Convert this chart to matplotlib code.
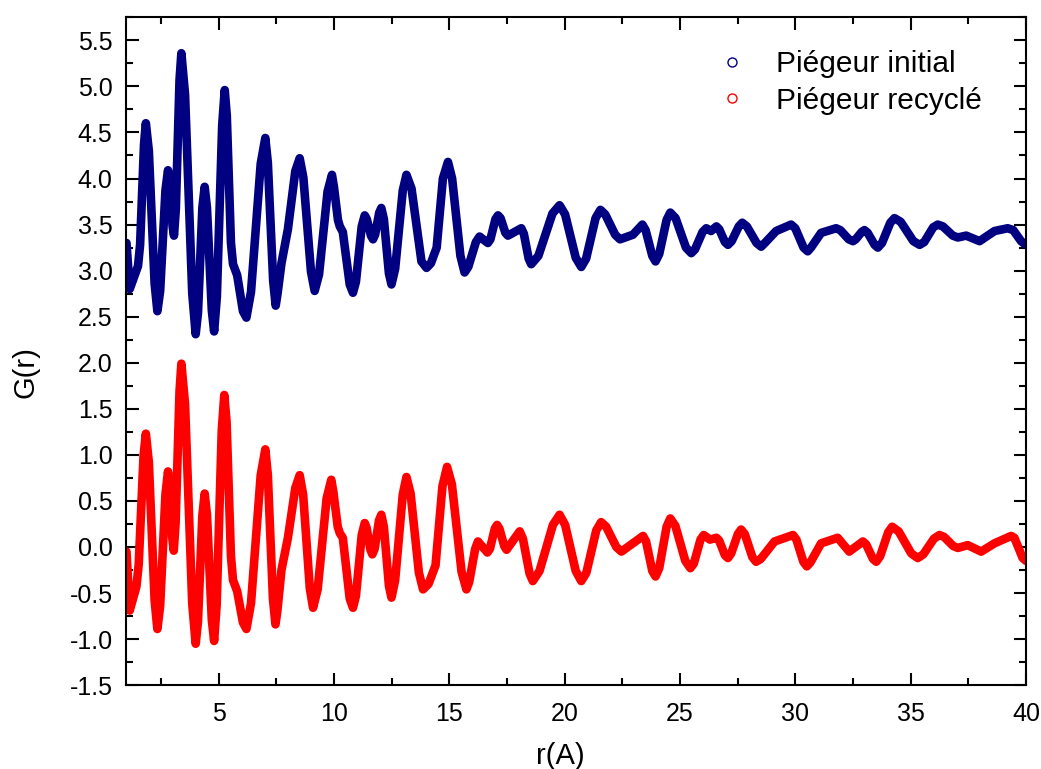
import matplotlib
matplotlib.use("Agg")
import matplotlib.pyplot as plt
from matplotlib.lines import Line2D
from matplotlib.ticker import MultipleLocator

# (r, G) points: extrema, shoulders and points on the flanks
initial_pts = [
    (1.00, 3.30), (1.14, 2.80), (1.50, 3.05), (1.59, 3.28), (1.76, 4.37), (1.84, 4.60),
    (1.97, 4.30), (2.22, 2.86), (2.34, 2.56), (2.46, 2.78), (2.69, 3.87), (2.80, 4.09),
    (2.87, 3.99), (3.00, 3.48), (3.06, 3.38), (3.14, 3.67), (3.30, 5.07), (3.38, 5.36),
    (3.54, 4.91), (3.85, 2.76), (4.00, 2.31), (4.10, 2.54), (4.29, 3.68), (4.39, 3.91),
    (4.49, 3.68), (4.70, 2.57), (4.80, 2.34), (4.92, 2.72), (5.15, 4.58), (5.26, 4.96),
    (5.35, 4.68), (5.53, 3.30), (5.62, 3.07), (5.80, 2.95), (6.05, 2.56), (6.20, 2.49),
    (6.40, 2.77), (6.82, 4.16), (7.02, 4.44), (7.13, 4.17), (7.36, 2.89), (7.47, 2.62),
    (7.55, 2.75), (7.72, 3.08), (8.00, 3.45), (8.32, 4.08), (8.51, 4.22), (8.67, 4.01),
    (9.00, 2.99), (9.16, 2.78), (9.35, 2.96), (9.72, 3.86), (9.91, 4.04), (10.00, 3.90),
    (10.17, 3.55), (10.25, 3.48), (10.38, 3.42), (10.68, 2.85), (10.82, 2.76), (10.95, 2.88),
    (11.20, 3.48), (11.33, 3.60), (11.42, 3.56), (11.60, 3.38), (11.69, 3.34), (11.78, 3.39),
    (11.96, 3.63), (12.05, 3.68), (12.16, 3.56), (12.38, 2.97), (12.49, 2.85), (12.65, 3.02),
    (12.98, 3.87), (13.14, 4.04), (13.36, 3.89), (13.79, 3.10), (14.01, 3.03), (14.20, 3.08),
    (14.45, 3.25), (14.72, 4.00), (14.94, 4.18), (15.12, 4.00), (15.48, 3.16), (15.66, 2.98),
    (15.82, 3.04), (16.15, 3.31), (16.31, 3.37), (16.67, 3.30), (16.78, 3.34), (17.00, 3.56),
    (17.11, 3.60), (17.22, 3.57), (17.43, 3.41), (17.54, 3.38), (18.12, 3.46), (18.23, 3.40),
    (18.44, 3.13), (18.55, 3.07), (18.86, 3.16), (19.47, 3.62), (19.78, 3.71), (20.02, 3.61),
    (20.48, 3.14), (20.72, 3.04), (20.93, 3.13), (21.34, 3.57), (21.55, 3.66), (21.76, 3.61),
    (22.19, 3.39), (22.40, 3.34), (22.96, 3.39), (23.37, 3.50), (23.51, 3.44), (23.80, 3.16),
    (23.94, 3.10), (24.10, 3.18), (24.42, 3.55), (24.58, 3.63), (24.81, 3.57), (25.26, 3.25),
    (25.49, 3.19), (25.65, 3.23), (25.98, 3.42), (26.14, 3.46), (26.35, 3.43), (26.58, 3.48),
    (26.70, 3.45), (26.95, 3.31), (27.08, 3.28), (27.24, 3.32), (27.55, 3.48), (27.70, 3.52),
    (27.90, 3.48), (28.32, 3.30), (28.52, 3.26), (28.68, 3.30), (29.17, 3.43), (29.82, 3.50),
    (30.00, 3.46), (30.36, 3.25), (30.54, 3.21), (30.68, 3.25), (31.12, 3.41), (31.77, 3.46),
    (31.95, 3.44), (32.32, 3.34), (32.50, 3.32), (32.62, 3.34), (32.88, 3.42), (33.00, 3.44),
    (33.14, 3.41), (33.44, 3.28), (33.58, 3.25), (33.76, 3.30), (34.12, 3.52), (34.30, 3.57),
    (34.57, 3.53), (35.12, 3.32), (35.39, 3.28), (35.59, 3.31), (35.98, 3.47), (36.18, 3.50),
    (36.40, 3.48), (36.83, 3.38), (37.05, 3.36), (37.41, 3.38), (37.99, 3.32), (38.64, 3.43),
    (39.21, 3.46), (39.45, 3.44), (39.79, 3.32), (40.00, 3.28),
]

recycled_pts = [
    (1.00, -0.05), (1.14, -0.69), (1.43, -0.43), (1.53, -0.19), (1.74, 0.99), (1.84, 1.23),
    (1.97, 0.92), (2.22, -0.58), (2.34, -0.89), (2.46, -0.64), (2.69, 0.57), (2.80, 0.82),
    (2.86, 0.69), (2.99, 0.09), (3.05, -0.04), (3.13, 0.26), (3.30, 1.69), (3.38, 1.99),
    (3.54, 1.55), (3.85, -0.61), (4.00, -1.05), (4.10, -0.81), (4.29, 0.34), (4.39, 0.58),
    (4.49, 0.35), (4.70, -0.79), (4.80, -1.02), (4.91, -0.63), (5.13, 1.26), (5.24, 1.65),
    (5.34, 1.36), (5.53, -0.10), (5.62, -0.36), (5.80, -0.48), (6.05, -0.82), (6.20, -0.89),
    (6.40, -0.61), (6.82, 0.78), (7.02, 1.06), (7.13, 0.78), (7.35, -0.56), (7.46, -0.84),
    (7.54, -0.70), (7.72, -0.25), (8.00, 0.10), (8.32, 0.64), (8.51, 0.78), (8.66, 0.57),
    (8.95, -0.45), (9.09, -0.66), (9.29, -0.46), (9.68, 0.53), (9.88, 0.73), (9.97, 0.60),
    (10.16, 0.22), (10.25, 0.15), (10.38, 0.10), (10.68, -0.56), (10.82, -0.66), (10.95, -0.53),
    (11.20, 0.13), (11.33, 0.26), (11.41, 0.21), (11.58, -0.03), (11.66, -0.08), (11.76, -0.02),
    (11.95, 0.29), (12.05, 0.35), (12.16, 0.22), (12.38, -0.42), (12.49, -0.55), (12.65, -0.36),
    (12.98, 0.57), (13.14, 0.76), (13.32, 0.58), (13.68, -0.28), (13.86, -0.46), (14.10, -0.40),
    (14.40, -0.20), (14.70, 0.66), (14.90, 0.87), (15.11, 0.68), (15.53, -0.27), (15.74, -0.46),
    (15.86, -0.38), (16.12, -0.02), (16.24, 0.06), (16.65, -0.06), (16.76, -0.02), (16.97, 0.20),
    (17.07, 0.24), (17.17, 0.20), (17.38, 0.01), (17.48, -0.03), (18.05, 0.17), (18.19, 0.09),
    (18.48, -0.29), (18.62, -0.37), (18.91, -0.26), (19.49, 0.24), (19.78, 0.35), (20.02, 0.24),
    (20.48, -0.26), (20.72, -0.37), (20.94, -0.28), (21.37, 0.18), (21.58, 0.27), (21.80, 0.22),
    (22.24, 0.00), (22.46, -0.05), (22.96, 0.04), (23.40, 0.12), (23.53, 0.06), (23.80, -0.26),
    (23.94, -0.32), (24.10, -0.23), (24.42, 0.22), (24.58, 0.31), (24.80, 0.23), (25.23, -0.15),
    (25.45, -0.23), (25.60, -0.18), (25.89, 0.08), (26.03, 0.13), (26.30, 0.08), (26.58, 0.10),
    (26.70, 0.07), (26.95, -0.09), (27.08, -0.12), (27.22, -0.07), (27.51, 0.14), (27.65, 0.19),
    (27.81, 0.14), (28.14, -0.11), (28.30, -0.16), (28.50, -0.13), (29.10, 0.06), (29.90, 0.13),
    (30.05, 0.08), (30.35, -0.16), (30.50, -0.21), (30.65, -0.17), (31.12, 0.04), (31.84, 0.10),
    (32.34, -0.05), (32.93, 0.06), (33.07, 0.03), (33.37, -0.13), (33.51, -0.16), (33.68, -0.10),
    (34.03, 0.16), (34.20, 0.22), (34.48, 0.17), (35.03, -0.07), (35.31, -0.12), (35.55, -0.08),
    (36.01, 0.09), (36.25, 0.13), (36.45, 0.11), (36.85, 0.01), (37.05, -0.01), (37.48, 0.02),
    (38.06, -0.05), (38.64, 0.04), (39.36, 0.12), (39.50, 0.10), (39.86, -0.12), (40.00, -0.15),
]

labels = ["Piégeur initial", "Piégeur recyclé"]
colors = ["#000080", "#ff0000"]


def main():
    plt.rcParams['font.family'] = ['Liberation Sans', 'DejaVu Sans']

    fig = plt.figure(figsize=(10.41, 7.69), dpi=100)
    ax = fig.add_axes([0.1215, 0.109, 0.864, 0.8685])

    # the original curves are thousands of overlapping open circles,
    # a thick round-joined band of the same width stands in for them
    for pts, c in [(initial_pts, colors[0]), (recycled_pts, colors[1])]:
        r, g = zip(*pts)
        ax.plot(r, g, color=c, lw=6.2, solid_joinstyle='round',
                solid_capstyle='round')

    ax.set_xlim(1, 40)
    ax.set_ylim(-1.5, 5.75)
    ax.xaxis.set_major_locator(MultipleLocator(5))
    ax.xaxis.set_minor_locator(MultipleLocator(2.5))
    ax.yaxis.set_major_locator(MultipleLocator(0.5))
    ax.yaxis.set_minor_locator(MultipleLocator(0.25))
    ax.yaxis.set_major_formatter(lambda v, p: f"{v:.1f}")

    ax.tick_params(which='both', direction='in', top=True, right=True,
                   width=1.5, labelsize=18)
    ax.tick_params(which='major', length=9)
    ax.tick_params(which='minor', length=5)
    ax.tick_params(axis='x', pad=12)
    ax.tick_params(axis='y', pad=10)
    for s in ax.spines.values():
        s.set_linewidth(1.5)

    ax.set_xlabel("r(A)", fontsize=21, va='top')
    ax.xaxis.set_label_coords(0.482, -0.085)
    ax.set_ylabel("G(r)", fontsize=21)
    ax.yaxis.set_label_coords(-0.097, 0.469)

    handles = [Line2D([], [], ls='none', marker='o', markersize=6.5,
                      markerfacecolor='none', markeredgecolor=c, mew=1)
               for c in colors]
    fig.legend(handles, labels, loc='upper left', frameon=False,
               bbox_to_anchor=(0.6885, 0.935), fontsize=21.5,
               handlelength=1.0, handletextpad=0.98, labelspacing=0.3,
               borderpad=0, borderaxespad=0)

    fig.savefig("out.png", dpi=100)


if __name__ == "__main__":
    main()
